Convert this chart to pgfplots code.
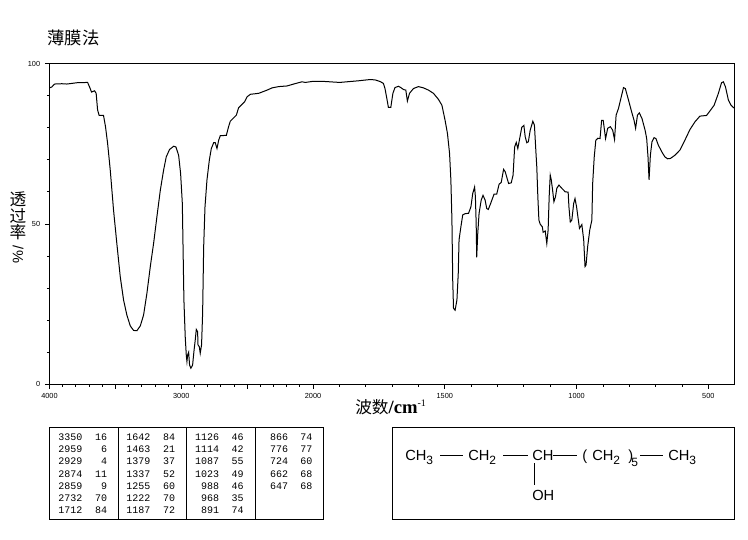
\documentclass[border=0pt]{standalone}
\usepackage{fontspec}
\usepackage{pgfplots}
\usepackage{pgfplotstable}
\pgfplotsset{compat=1.18}
\setmainfont{Liberation Sans}
\setmonofont{Liberation Mono}
\newfontfamily\cjk{Noto Sans CJK SC}
\newfontfamily\seriffont{Liberation Serif}
\newcommand\sub[1]{\raisebox{-3pt}{\fontsize{9}{9}\selectfont #1}}

% wavenumber, transmittance
\pgfplotstableread{
4000 92.4
3982 92.7
3962 93.6
3906 93.7
3868 93.6
3792 94.0
3711 94.1
3696 92.7
3681 91.1
3658 91.5
3646 90.7
3635 85.5
3623 83.8
3590 83.8
3575 80.3
3559 75.1
3539 66.8
3514 54.3
3489 43.9
3463 33.5
3438 26.3
3413 21.6
3387 18.2
3362 16.8
3337 16.7
3311 18.2
3286 21.6
3261 28.3
3235 36.7
3210 43.9
3185 52.2
3159 60.5
3134 66.8
3114 70.9
3089 73.2
3058 74.2
3041 74.0
3020 71.4
3005 65.7
2992 56.4
2987 43.9
2980 26.3
2970 14.8
2962 9.1
2957 7.1
2952 9.1
2944 10.0
2937 6.0
2927 5.0
2914 6.0
2904 10.2
2894 13.8
2886 17.1
2876 16.4
2873 12.3
2863 11.7
2856 9.7
2846 12.3
2838 22.1
2830 42.9
2820 55.3
2805 63.7
2787 69.9
2772 73.5
2754 75.3
2742 75.3
2729 73.5
2716 76.1
2704 77.5
2658 77.6
2641 80.3
2628 82.0
2582 83.9
2565 86.2
2519 88.1
2501 89.6
2476 90.4
2413 90.7
2349 91.7
2311 92.4
2261 92.8
2197 93.0
2147 93.6
2084 94.3
2058 94.1
2008 94.4
1956 94.4
1899 94.1
1829 94.6
1784 95.0
1765 94.9
1746 94.4
1733 93.8
1727 92.2
1720 89.1
1714 86.3
1705 86.3
1697 90.7
1689 92.5
1676 92.9
1667 92.5
1657 91.9
1648 91.7
1642 88.3
1634 90.7
1619 92.2
1600 92.8
1581 92.4
1562 91.7
1543 90.7
1524 88.8
1511 87.0
1499 82.3
1490 78.2
1482 72.0
1477 63.7
1473 51.2
1470 32.5
1467 23.7
1461 23.1
1454 26.3
1449 34.6
1446 45.0
1439 49.1
1432 52.8
1423 53.2
1410 53.3
1401 55.3
1394 59.5
1387 61.5
1384 58.5
1381 50.2
1379 39.6
1375 47.0
1370 53.3
1362 57.4
1355 58.9
1347 57.4
1341 54.8
1335 54.5
1326 56.4
1313 59.3
1303 59.3
1294 62.4
1286 62.9
1277 67.0
1271 66.3
1258 62.6
1248 62.8
1241 65.2
1235 74.0
1229 75.4
1223 73.5
1208 80.1
1200 80.7
1195 77.2
1189 75.3
1183 75.6
1176 79.2
1166 82.0
1160 80.8
1154 72.0
1151 67.8
1147 58.5
1143 51.2
1138 49.9
1130 49.1
1127 47.4
1119 47.8
1113 43.9
1108 48.1
1104 58.5
1100 65.2
1096 63.7
1091 60.5
1086 56.9
1080 58.5
1075 61.1
1067 62.1
1056 61.1
1043 60.0
1032 59.9
1029 55.3
1024 50.6
1018 51.2
1011 56.4
1006 57.9
1000 55.3
995 52.2
989 48.6
980 49.8
973 45.0
968 36.7
964 37.2
958 42.9
950 48.1
942 51.2
939 62.6
933 70.9
927 76.1
919 76.7
911 76.6
905 82.3
899 82.3
890 76.6
882 79.8
872 80.3
863 79.2
856 76.3
850 83.9
841 86.0
832 89.1
822 92.5
815 92.2
803 88.6
791 84.9
782 82.3
776 79.8
769 83.9
762 84.6
752 82.9
740 79.2
734 76.6
729 70.9
725 63.7
720 71.4
714 75.6
706 76.9
699 76.6
690 74.6
677 72.5
665 70.9
655 70.3
644 70.4
627 71.4
608 73.0
589 76.1
570 79.4
551 81.8
532 83.6
507 83.8
494 85.2
478 87.0
462 90.7
450 94.0
443 94.3
435 92.7
424 88.6
414 87.0
404 86.2
400 86.1
}\spectrum

\begin{document}
\begin{tikzpicture}
  \begin{scope}[x=0.75pt,y=-0.75pt]
    \useasboundingbox (0,0) rectangle (748,539);
    \coordinate (origin) at (49.5,384.3);

    % headings
    \node[font=\cjk\fontsize{13}{13}\selectfont] at (73.5,38) {薄膜法};
    \foreach \y/\c in {199.5/透,215.5/过,232.5/率}
      \node[font=\cjk\fontsize{12.5}{13}\selectfont,inner sep=0pt] at (18,\y) {\c};
    \node[font=\fontsize{11}{11}\selectfont,rotate=-90,inner sep=0pt] at (18,254.5) {/\%};
    \node[font=\cjk\fontsize{12.5}{13}\selectfont,anchor=base west,inner sep=0pt] at (355,413) {波数{\seriffont\bfseries\fontsize{14}{14}\selectfont/cm}\raisebox{5pt}{\seriffont\fontsize{7.5}{7.5}\selectfont-1}};

    % peak table
    \draw[line width=0.7pt] (49.3,427.3) rectangle (323.7,519.3);
    \foreach \x in {118.3,186.3,255.3} \draw[line width=0.7pt] (\x,427.3) -- (\x,519.3);
    \begin{scope}[every node/.style={font=\ttfamily\fontsize{7.5}{8}\selectfont,anchor=east,inner sep=0pt}]
      \foreach \y/\a/\b/\c/\d/\e/\f in {
        436.7/3350/16/1642/84/1126/46,
        448.7/2959/6/1463/21/1114/42,
        461.3/2929/4/1379/37/1087/55,
        473.7/2874/11/1337/52/1023/49,
        485.7/2859/9/1255/60/988/46,
        498.0/2732/70/1222/70/968/35,
        510.3/1712/84/1187/72/891/74} {
        \node at (82.7,\y) {\a};
        \node at (107.3,\y) {\b};
        \node at (150.7,\y) {\c};
        \node at (175.3,\y) {\d};
        \node at (219.3,\y) {\e};
        \node at (244,\y) {\f};
      }
      \foreach \y/\a/\b in {436.7/866/74,448.7/776/77,461.3/724/60,473.7/662/68,485.7/647/68} {
        \node at (288.3,\y) {\a};
        \node at (312.7,\y) {\b};
      }
    \end{scope}

    % structure
    \draw[line width=0.7pt] (392.3,427.3) rectangle (734.3,519.3);
    \begin{scope}[every node/.style={font=\fontsize{11}{11}\selectfont,anchor=base west,inner sep=0pt}]
      \node at (405,460) {CH\sub{3}};
      \node at (468,460) {CH\sub{2}};
      \node at (532,460) {CH};
      \node at (582,460) {(};
      \node at (592,460) {CH\sub{2}};
      \node at (628,460) {)};
      \node at (631,462) {\sub{5}};
      \node at (668,460) {CH\sub{3}};
      \node at (532,500) {OH};
    \end{scope}
    \draw[line width=0.6pt] (440,455) -- (463,455) (503,455) -- (528,455) (553,455) -- (577,455) (640,455) -- (663,455) (534.3,463) -- (534.3,485);
  \end{scope}

  \begin{axis}[
    at={(origin)}, anchor=south west,
    scale only axis,
    width=513.9pt, height=240.6pt,
    % scale doubles below 2000
    x coord trafo/.code={\pgfmathparse{#1>=2000 ? (4000-#1)/2 : 1000+(2000-#1)}},
    xmin=4000, xmax=400,
    ymin=0, ymax=100,
    xtick={4000,3500,3000,2500,2000,1500,1000,500},
    xticklabels={4000,,3000,,2000,1500,1000,500},
    minor xtick={3900,3800,3700,3600,3400,3300,3200,3100,2900,2800,2700,2600,2400,2300,2200,2100,1900,1800,1700,1600,1400,1300,1200,1100,900,800,700,600},
    ytick={0,50,100},
    minor ytick={10,20,30,40,60,70,80,90},
    tick align=outside,
    tick pos=left,
    major tick length=3.5pt,
    minor tick length=2pt,
    tick style={black,line width=0.6pt},
    axis line style={line width=0.7pt},
    ticklabel style={font=\fontsize{5.5}{6}\selectfont},
    /pgf/number format/assume math mode=true,
    ]
    \addplot[black,line width=0.75pt,sharp plot,no marks] table {\spectrum};
  \end{axis}
\end{tikzpicture}
\end{document}
